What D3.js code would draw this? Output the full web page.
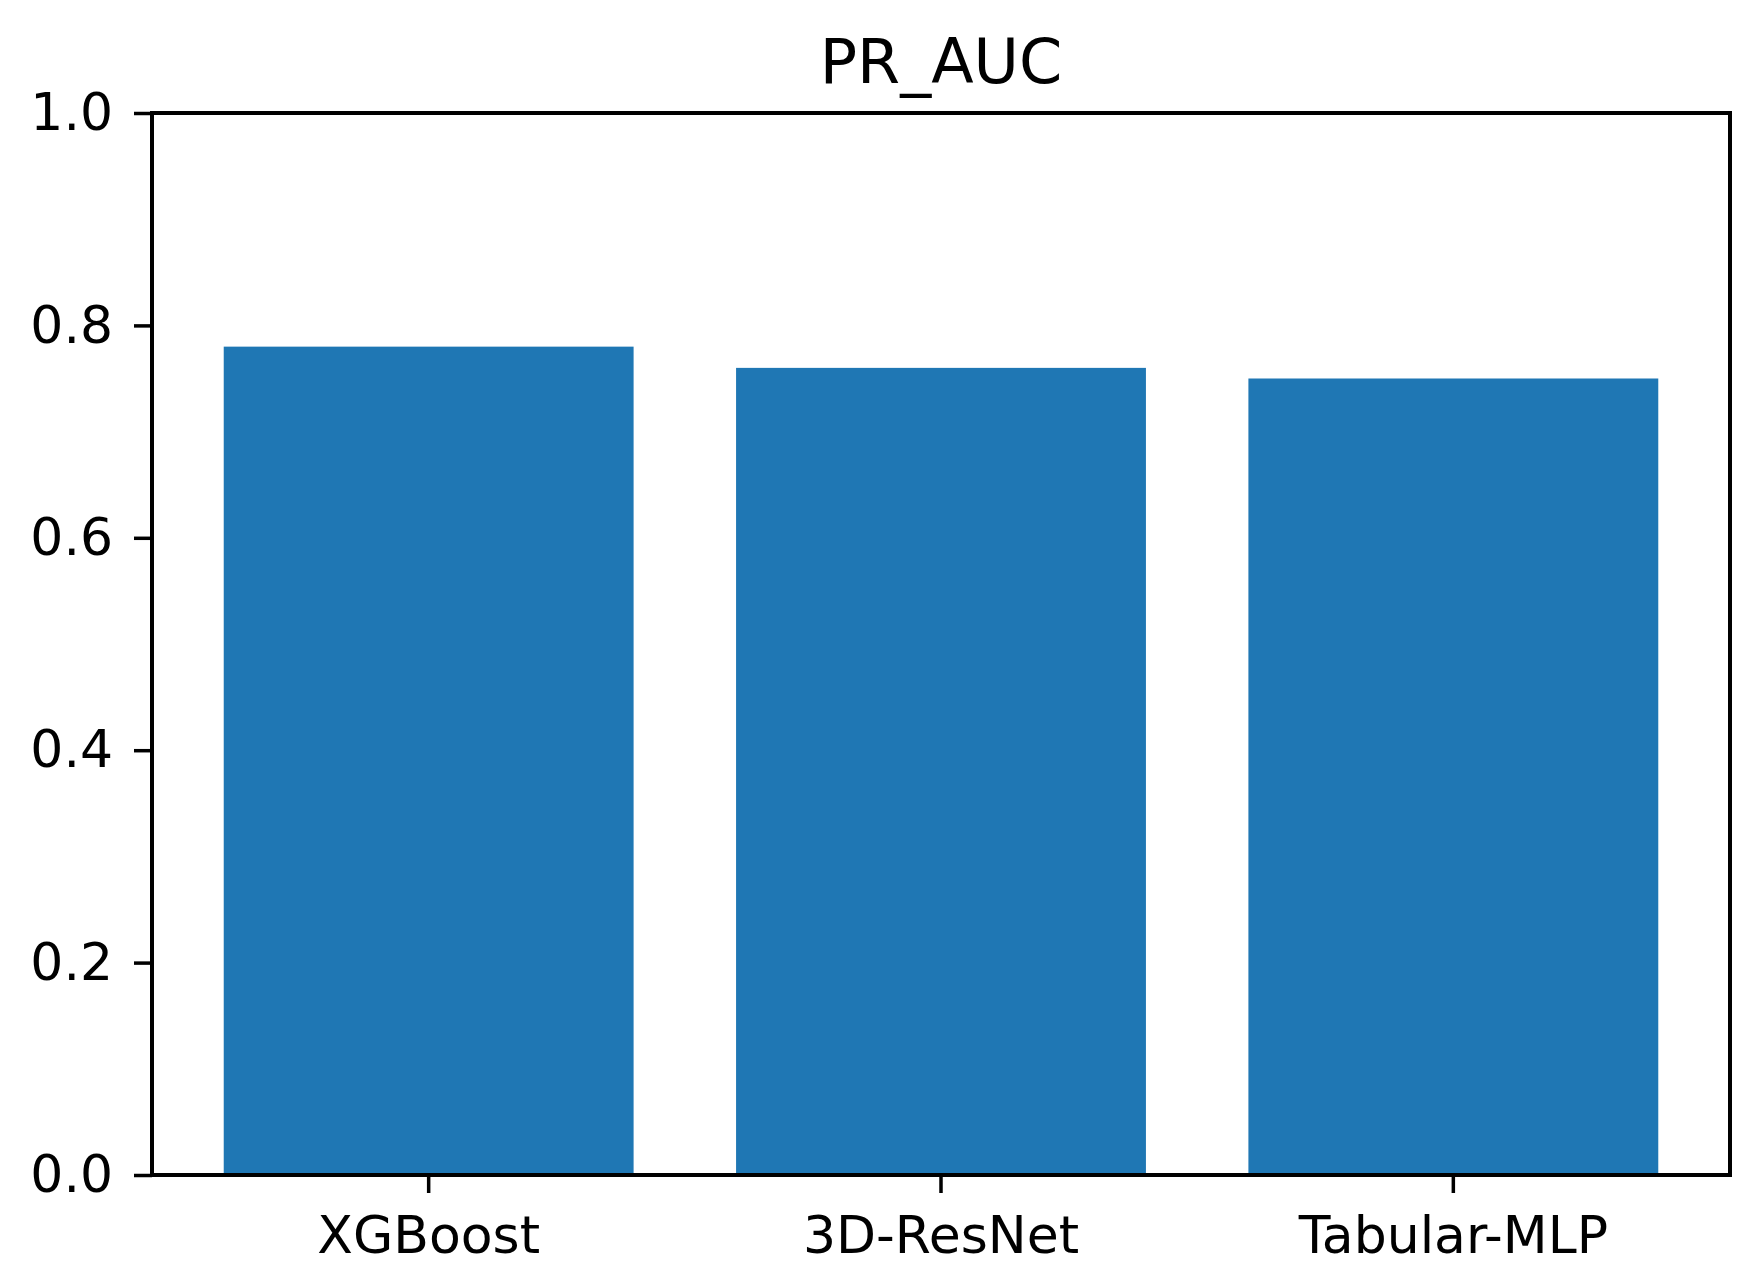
<!DOCTYPE html>
<html>
<head>
<meta charset="utf-8">
<script src="https://cdn.jsdelivr.net/npm/d3@7"></script>
<style>
  body { margin: 0; background: #fff; }
  svg { display: block; font-family: "DejaVu Sans", sans-serif; }
</style>
</head>
<body>
<div id="chart"></div>
<script>
const models = ["XGBoost", "3D-ResNet", "Tabular-MLP"];
const prAuc = [0.78, 0.76, 0.75];
const yTicks = [0.0, 0.2, 0.4, 0.6, 0.8, 1.0];
const chartTitle = "PR_AUC";

const width = 1760;
const height = 1284;
const margin = { top: 113, right: 30, bottom: 109, left: 152 };

const svg = d3
  .select("#chart")
  .append("svg")
  .attr("width", width)
  .attr("height", height);

svg.append("rect").attr("width", width).attr("height", height).attr("fill", "#fff");

const chartWidth = width - margin.left - margin.right;
const chartHeight = height - margin.top - margin.bottom;

const g = svg.append("g").attr("transform", `translate(${margin.left}, ${margin.top})`);

// matplotlib-like band layout: bar width 0.8, 5% margins
const xScale = d3
  .scaleBand()
  .domain(models)
  .range([0, chartWidth])
  .paddingInner(0.2)
  .paddingOuter(0.14);

const yScale = d3.scaleLinear().domain([0, 1]).range([chartHeight, 0]);

g.append("g")
  .attr("class", "bars")
  .selectAll("rect")
  .data(models)
  .enter()
  .append("rect")
  .attr("x", d => xScale(d))
  .attr("y", (d, i) => yScale(prAuc[i]))
  .attr("width", xScale.bandwidth())
  .attr("height", (d, i) => chartHeight - yScale(prAuc[i]))
  .attr("fill", "#1f77b4");

const xAxis = d3.axisBottom(xScale).tickSize(18).tickPadding(23).tickSizeOuter(0);
const yAxis = d3
  .axisLeft(yScale)
  .tickValues(yTicks)
  .tickFormat(d3.format(".1f"))
  .tickSize(18)
  .tickPadding(21)
  .tickSizeOuter(0);

const gx = g.append("g").attr("transform", `translate(0,${chartHeight})`).call(xAxis);
const gy = g.append("g").call(yAxis);

[gx, gy].forEach(ax => {
  ax.select(".domain").remove();
  ax.selectAll(".tick line").attr("stroke", "#000").attr("stroke-width", 3.5);
  ax.selectAll(".tick text")
    .attr("fill", "#000")
    .attr("font-size", 52)
    .attr("font-family", "DejaVu Sans, sans-serif");
});

// frame
g.append("rect")
  .attr("width", chartWidth)
  .attr("height", chartHeight)
  .attr("fill", "none")
  .attr("stroke", "#000")
  .attr("stroke-width", 4);

svg
  .append("text")
  .attr("x", margin.left + chartWidth / 2)
  .attr("y", 83)
  .attr("text-anchor", "middle")
  .attr("font-size", 62)
  .attr("fill", "#000")
  .text(chartTitle);
</script>
</body>
</html>
